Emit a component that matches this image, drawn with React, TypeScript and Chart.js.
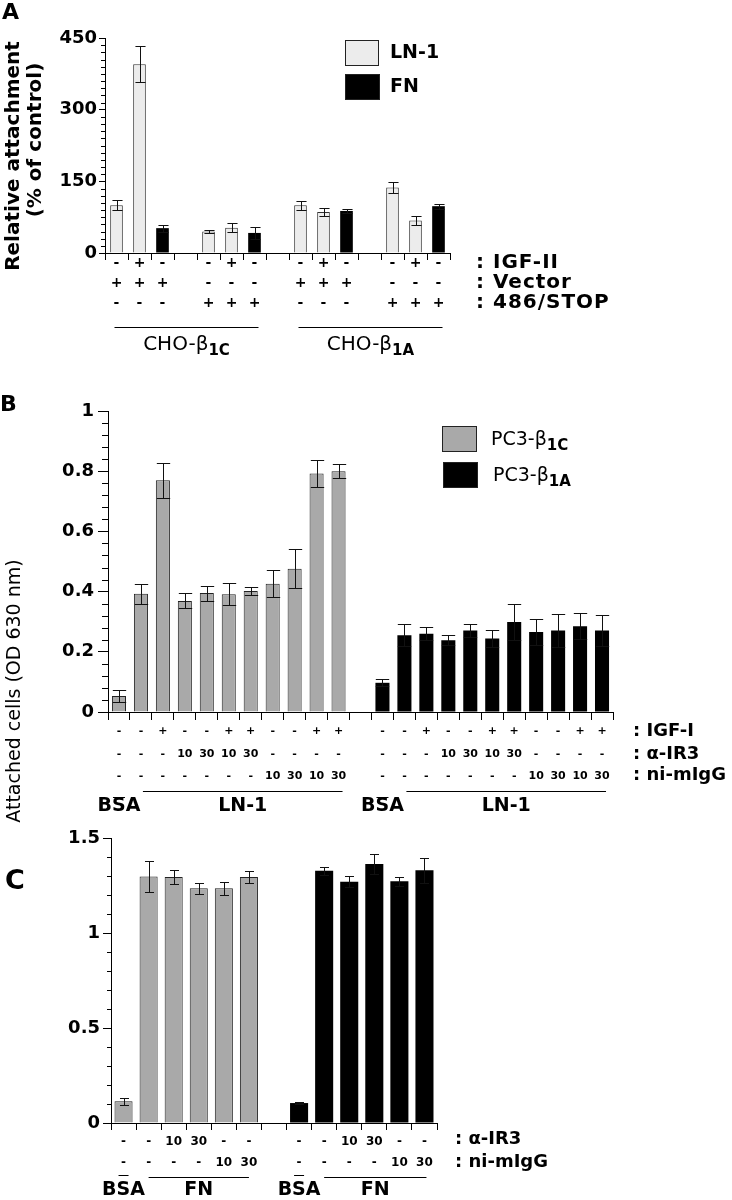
import { useEffect, useRef } from "react";
import { Chart, registerables } from "chart.js";

Chart.register(...registerables);

const W = 732;
const H = 1200;
const FF = '"DejaVu Sans", "Liberation Sans", Arial, sans-serif';

// ---------------- Panel A data (relative attachment, % of control) ----------------
const aCategories = ["C1", "C2", "C3", "gapA1", "C4", "C5", "C6", "gapA2", "A1", "A2", "A3", "gapA3", "A4", "A5", "A6"];
const aLN1 = [100, 395, null, null, 45, 53, null, null, 100, 86, null, null, 137, 68, null];
const aLN1Err = [11, 38, null, null, 4, 9, null, null, 9.5, 9, null, null, 12, 10, null];
const aFN = [null, null, 52, null, null, null, 42, null, null, null, 88, null, null, null, 98];
const aFNErr = [null, null, 7.5, null, null, null, 12, null, null, null, 5, null, null, null, 5];
const aIGF2Row = ["-", "+", "-", "", "-", "+", "-", "", "-", "+", "-", "", "-", "+", "-"];
const aVectorRow = ["+", "+", "+", "", "-", "-", "-", "", "+", "+", "+", "", "-", "-", "-"];
const aStopRow = ["-", "-", "-", "", "+", "+", "+", "", "-", "-", "-", "", "+", "+", "+"];

// ---------------- Panel B data (attached cells OD 630 nm, LN-1) ----------------
const bCategories = ["g1", "g2", "g3", "g4", "g5", "g6", "g7", "g8", "g9", "g10", "g11", "gapB", "k1", "k2", "k3", "k4", "k5", "k6", "k7", "k8", "k9", "k10", "k11"];
const bPC3b1C = [0.053, 0.393, 0.77, 0.369, 0.395, 0.391, 0.402, 0.426, 0.476, 0.792, 0.8, null, null, null, null, null, null, null, null, null, null, null, null];
const bPC3b1CErr = [0.02, 0.033, 0.058, 0.025, 0.025, 0.037, 0.013, 0.045, 0.064, 0.044, 0.023, null, null, null, null, null, null, null, null, null, null, null, null];
const bPC3b1A = [null, null, null, null, null, null, null, null, null, null, null, null, 0.097, 0.255, 0.26, 0.238, 0.271, 0.244, 0.299, 0.266, 0.271, 0.285, 0.271];
const bPC3b1AErr = [null, null, null, null, null, null, null, null, null, null, null, null, 0.012, 0.036, 0.022, 0.017, 0.022, 0.027, 0.061, 0.044, 0.056, 0.044, 0.052];
const bIGF1Row = ["-", "-", "+", "-", "-", "+", "+", "-", "-", "+", "+", "", "-", "-", "+", "-", "-", "+", "+", "-", "-", "+", "+"];
const bIR3Row = ["-", "-", "-", "10", "30", "10", "30", "-", "-", "-", "-", "", "-", "-", "-", "10", "30", "10", "30", "-", "-", "-", "-"];
const bIgGRow = ["-", "-", "-", "-", "-", "-", "-", "10", "30", "10", "30", "", "-", "-", "-", "-", "-", "-", "-", "10", "30", "10", "30"];

// ---------------- Panel C data (attached cells, FN) ----------------
const cCategories = ["g1", "g2", "g3", "g4", "g5", "g6", "gapC", "k1", "k2", "k3", "k4", "k5", "k6"];
const cPC3b1C = [0.114, 1.298, 1.295, 1.235, 1.235, 1.295, null, null, null, null, null, null, null];
const cPC3b1CErr = [0.02, 0.08, 0.037, 0.03, 0.035, 0.033, null, null, null, null, null, null, null];
const cPC3b1A = [null, null, null, null, null, null, null, 0.105, 1.328, 1.27, 1.363, 1.272, 1.33];
const cPC3b1AErr = [null, null, null, null, null, null, null, 0.003, 0.022, 0.03, 0.055, 0.022, 0.065];
const cIR3Row = ["-", "-", "10", "30", "-", "-", "", "-", "-", "10", "30", "-", "-"];
const cIgGRow = ["-", "-", "-", "-", "10", "30", "", "-", "-", "-", "-", "10", "30"];

// ---------------- helpers ----------------
type Val = number | null;
interface Series { data: Val[]; err: Val[]; bg: string; border: string; bw: number }
interface Row { cells: string[]; dy: number; size: number }
interface Group { from: number; to: number; padL: number; padR: number; line: boolean; lineDy: number; textDy: number; text: string; sub?: string; size: number; subSize?: number; weight: string }
interface Overline { at: number; half: number; dy: number }
interface Panel {
  area: { left: number; top: number; right: number; bottom: number };
  labels: string[];
  series: Series[];
  barPct: number;
  capFrac: number;
  yMin: number; yMax: number; yStep: number; yMinor: number; yFont: number; yPad: number;
  majorLen: number; minorLen: number; xTickLen: number;
  rows: Row[];
  groups: Group[];
  overlines: Overline[];
  decorate: (ctx: CanvasRenderingContext2D) => void;
}

const fnt = (size: number, weight = "bold") => `${weight} ${size}px ${FF}`;

function text(ctx: CanvasRenderingContext2D, s: string, x: number, y: number, size: number, weight = "bold", align: CanvasTextAlign = "left", spacing = 0) {
  ctx.save();
  ctx.font = fnt(size, weight);
  (ctx as any).letterSpacing = `${spacing}px`;
  ctx.textAlign = align;
  ctx.textBaseline = "middle";
  ctx.fillStyle = "#000";
  ctx.fillText(s, x, y);
  ctx.restore();
}

function subText(ctx: CanvasRenderingContext2D, main: string, sub: string, x: number, y: number, size: number, subSize: number, weight: string, align: "left" | "center") {
  ctx.save();
  ctx.textBaseline = "middle";
  ctx.fillStyle = "#000";
  ctx.font = fnt(size, weight);
  const wm = ctx.measureText(main).width;
  ctx.font = fnt(subSize, "bold");
  const ws = ctx.measureText(sub).width;
  const start = align === "center" ? x - (wm + ws) / 2 : x;
  ctx.textAlign = "left";
  ctx.font = fnt(size, weight);
  ctx.fillText(main, start, y);
  ctx.font = fnt(subSize, "bold");
  ctx.fillText(sub, start + wm, y + size * 0.32);
  ctx.restore();
}

function rotText(ctx: CanvasRenderingContext2D, s: string, x: number, y: number, size: number, weight: string) {
  ctx.save();
  ctx.translate(x, y);
  ctx.rotate(-Math.PI / 2);
  ctx.font = fnt(size, weight);
  ctx.textAlign = "center";
  ctx.textBaseline = "middle";
  ctx.fillStyle = "#000";
  ctx.fillText(s, 0, 0);
  ctx.restore();
}

function box(ctx: CanvasRenderingContext2D, x: number, y: number, w: number, h: number, fill: string) {
  ctx.save();
  ctx.fillStyle = fill;
  ctx.fillRect(x, y, w, h);
  ctx.strokeStyle = "#222";
  ctx.lineWidth = 1;
  ctx.strokeRect(x + 0.5, y + 0.5, w - 1, h - 1);
  ctx.restore();
}

function decorPlugin(p: Panel) {
  return {
    id: "decor",
    afterDraw(chart: any) {
      const ctx: CanvasRenderingContext2D = chart.ctx;
      const xs = chart.scales.x;
      const ys = chart.scales.y;
      const area = chart.chartArea;
      ctx.save();
      // error bars
      ctx.strokeStyle = "#111";
      ctx.lineWidth = 1;
      p.series.forEach((s, di) => {
        const meta = chart.getDatasetMeta(di);
        s.data.forEach((v, i) => {
          const e = s.err[i];
          if (v == null || e == null) return;
          const el = meta.data[i];
          const x = Math.round(el.x) + 0.5;
          const cap = (el.width * p.capFrac) / 2;
          const yt = Math.round(ys.getPixelForValue(v + e)) + 0.5;
          const yb = Math.round(ys.getPixelForValue(v - e)) + 0.5;
          ctx.beginPath();
          ctx.moveTo(x, yt);
          ctx.lineTo(x, yb);
          ctx.moveTo(x - cap, yt);
          ctx.lineTo(x + cap, yt);
          ctx.moveTo(x - cap, yb);
          ctx.lineTo(x + cap, yb);
          ctx.stroke();
        });
      });
      // minor ticks on y axis
      ctx.strokeStyle = "#000";
      const nMinor = Math.round((p.yMax - p.yMin) / p.yMinor);
      const per = Math.round(p.yStep / p.yMinor);
      for (let k = 0; k <= nMinor; k++) {
        if (k % per === 0) continue;
        const y = Math.round(ys.getPixelForValue(p.yMin + k * p.yMinor)) + 0.5;
        ctx.beginPath();
        ctx.moveTo(area.left - p.minorLen, y);
        ctx.lineTo(area.left, y);
        ctx.stroke();
      }
      // condition rows
      p.rows.forEach((r) => {
        r.cells.forEach((c, i) => {
          if (!c) return;
          text(ctx, c, xs.getPixelForValue(i), area.bottom + r.dy, r.size, "bold", "center");
        });
      });
      // groups
      p.groups.forEach((g) => {
        const x1 = xs.getPixelForValue(g.from) + g.padL;
        const x2 = xs.getPixelForValue(g.to) + g.padR;
        if (g.line) {
          const y = Math.round(area.bottom + g.lineDy) + 0.5;
          ctx.strokeStyle = "#000";
          ctx.lineWidth = 1;
          ctx.beginPath();
          ctx.moveTo(x1, y);
          ctx.lineTo(x2, y);
          ctx.stroke();
        }
        const cx = (x1 + x2) / 2;
        if (g.sub) subText(ctx, g.text, g.sub, cx, area.bottom + g.textDy, g.size, g.subSize || 14, g.weight, "center");
        else text(ctx, g.text, cx, area.bottom + g.textDy, g.size, g.weight, "center");
      });
      p.overlines.forEach((o) => {
        const cx = xs.getPixelForValue(o.at);
        const y = Math.round(area.bottom + o.dy) + 0.5;
        ctx.strokeStyle = "#000";
        ctx.beginPath();
        ctx.moveTo(cx - o.half, y);
        ctx.lineTo(cx + o.half, y);
        ctx.stroke();
      });
      ctx.restore();
      p.decorate(ctx);
    },
  };
}

function buildConfig(p: Panel): any {
  const YW = 90;
  const XH = 20;
  return {
    type: "bar",
    data: {
      labels: p.labels,
      datasets: p.series.map((s) => ({
        data: s.data,
        backgroundColor: s.bg,
        borderColor: s.border,
        borderWidth: s.bw,
        grouped: false,
        barPercentage: p.barPct,
        categoryPercentage: 1,
      })),
    },
    options: {
      responsive: false,
      animation: false,
      devicePixelRatio: 1,
      events: [],
      layout: {
        padding: {
          left: p.area.left - YW,
          right: W - p.area.right,
          top: p.area.top,
          bottom: H - p.area.bottom - XH,
        },
      },
      plugins: { legend: { display: false }, tooltip: { enabled: false }, title: { display: false } },
      scales: {
        x: {
          offset: true,
          grid: { offset: true, drawOnChartArea: false, drawTicks: true, tickLength: p.xTickLen, color: "#000", lineWidth: 1 },
          border: { display: true, color: "#000", width: 1 },
          ticks: { display: false },
          afterFit: (s: any) => {
            s.height = XH;
          },
        },
        y: {
          min: p.yMin,
          max: p.yMax,
          ticks: {
            stepSize: p.yStep,
            color: "#000",
            padding: p.yPad,
            font: { family: FF, size: p.yFont, weight: "bold" },
            callback: (v: number) => String(Math.round(v * 10) / 10),
          },
          grid: { drawOnChartArea: false, drawTicks: true, tickLength: p.majorLen, color: "#000", lineWidth: 1 },
          border: { display: true, color: "#000", width: 1 },
          afterFit: (s: any) => {
            s.width = YW;
          },
        },
      },
    },
    plugins: [decorPlugin(p)],
  };
}

const LIGHT = "#ececec";
const GRAY = "#a9a9a9";
const BLACK = "#000000";

const panelA: Panel = {
  area: { left: 105, top: 38, right: 450, bottom: 253 },
  labels: aCategories,
  series: [
    { data: aLN1, err: aLN1Err, bg: LIGHT, border: "#333", bw: 1 },
    { data: aFN, err: aFNErr, bg: BLACK, border: BLACK, bw: 0 },
  ],
  barPct: 0.55,
  capFrac: 0.8,
  yMin: 0, yMax: 450, yStep: 150, yMinor: 15, yFont: 18, yPad: 2,
  majorLen: 6, minorLen: 4, xTickLen: 7,
  rows: [
    { cells: aIGF2Row, dy: 10, size: 14 },
    { cells: aVectorRow, dy: 30, size: 14 },
    { cells: aStopRow, dy: 50, size: 14 },
  ],
  groups: [
    { from: 0, to: 6, padL: -2, padR: 4, line: true, lineDy: 74, textDy: 92, text: "CHO-β", sub: "1C", size: 20, subSize: 15, weight: "normal" },
    { from: 8, to: 14, padL: -2, padR: 4, line: true, lineDy: 74, textDy: 92, text: "CHO-β", sub: "1A", size: 20, subSize: 15, weight: "normal" },
  ],
  overlines: [],
  decorate: (ctx) => {
    text(ctx, "A", 2, 13, 22, "bold");
    rotText(ctx, "Relative attachment", 14, 156, 20, "bold");
    rotText(ctx, "(% of control)", 36, 140, 20, "bold");
    box(ctx, 345, 40, 34, 26, LIGHT);
    box(ctx, 345, 74, 35, 26, BLACK);
    text(ctx, "LN-1", 390, 53, 19, "bold");
    text(ctx, "FN", 390, 87, 19, "bold");
    text(ctx, ": IGF-II", 476, 263, 20, "bold", "left", 1);
    text(ctx, ": Vector", 476, 283, 20, "bold", "left", 1);
    text(ctx, ": 486/STOP", 476, 303, 20, "bold", "left", 1);
  },
};

const panelB: Panel = {
  area: { left: 108, top: 411, right: 613, bottom: 712 },
  labels: bCategories,
  series: [
    { data: bPC3b1C, err: bPC3b1CErr, bg: GRAY, border: "#222", bw: 1 },
    { data: bPC3b1A, err: bPC3b1AErr, bg: BLACK, border: BLACK, bw: 0 },
  ],
  barPct: 0.64,
  capFrac: 0.95,
  yMin: 0, yMax: 1, yStep: 0.2, yMinor: 0.04, yFont: 18, yPad: 4,
  majorLen: 10, minorLen: 6, xTickLen: 8,
  rows: [
    { cells: bIGF1Row, dy: 19, size: 11 },
    { cells: bIR3Row, dy: 42, size: 11 },
    { cells: bIgGRow, dy: 64, size: 11 },
  ],
  groups: [
    { from: 0, to: 0, padL: 0, padR: 0, line: false, lineDy: 0, textDy: 94, text: "BSA", size: 19, weight: "bold" },
    { from: 1, to: 10, padL: 2, padR: 4, line: true, lineDy: 79, textDy: 94, text: "LN-1", size: 19, weight: "bold" },
    { from: 12, to: 12, padL: 0, padR: 0, line: false, lineDy: 0, textDy: 94, text: "BSA", size: 19, weight: "bold" },
    { from: 13, to: 22, padL: 2, padR: 4, line: true, lineDy: 79, textDy: 94, text: "LN-1", size: 19, weight: "bold" },
  ],
  overlines: [
    { at: 0, half: 6, dy: 85 },
    { at: 12, half: 6, dy: 85 },
  ],
  decorate: (ctx) => {
    text(ctx, "B", 0, 405, 22, "bold");
    rotText(ctx, "Attached cells (OD 630 nm)", 15, 691, 19, "normal");
    box(ctx, 442, 426, 35, 26, GRAY);
    box(ctx, 443, 462, 35, 26, BLACK);
    subText(ctx, "PC3-β", "1C", 491, 440, 19, 15, "normal", "left");
    subText(ctx, "PC3-β", "1A", 493, 476, 19, 15, "normal", "left");
    text(ctx, ": IGF-I", 633, 731, 18, "bold");
    text(ctx, ": α-IR3", 633, 754, 18, "bold");
    text(ctx, ": ni-mIgG", 633, 775, 18, "bold");
  },
};

const panelC: Panel = {
  area: { left: 111, top: 838, right: 437, bottom: 1123 },
  labels: cCategories,
  series: [
    { data: cPC3b1C, err: cPC3b1CErr, bg: GRAY, border: "#222", bw: 1 },
    { data: cPC3b1A, err: cPC3b1AErr, bg: BLACK, border: BLACK, bw: 0 },
  ],
  barPct: 0.72,
  capFrac: 0.5,
  yMin: 0, yMax: 1.5, yStep: 0.5, yMinor: 0.1, yFont: 18, yPad: 3,
  majorLen: 8, minorLen: 4, xTickLen: 7,
  rows: [
    { cells: cIR3Row, dy: 19, size: 12 },
    { cells: cIgGRow, dy: 40, size: 12 },
  ],
  groups: [
    { from: 0, to: 0, padL: 0, padR: 0, line: false, lineDy: 0, textDy: 67, text: "BSA", size: 19, weight: "bold" },
    { from: 1, to: 5, padL: 0, padR: 0, line: true, lineDy: 54, textDy: 67, text: "FN", size: 19, weight: "bold" },
    { from: 7, to: 7, padL: 0, padR: 0, line: false, lineDy: 0, textDy: 67, text: "BSA", size: 19, weight: "bold" },
    { from: 8, to: 12, padL: 0, padR: 2, line: true, lineDy: 54, textDy: 67, text: "FN", size: 19, weight: "bold" },
  ],
  overlines: [
    { at: 0, half: 5, dy: 52 },
    { at: 7, half: 5, dy: 52 },
  ],
  decorate: (ctx) => {
    text(ctx, "C", 5, 882, 27, "bold");
    text(ctx, ": α-IR3", 455, 1139, 18, "bold");
    text(ctx, ": ni-mIgG", 455, 1162, 18, "bold");
  },
};

function PanelChart({ panel }: { panel: Panel }) {
  const ref = useRef<HTMLCanvasElement>(null);
  useEffect(() => {
    if (!ref.current) return;
    const chart = new Chart(ref.current, buildConfig(panel));
    return () => chart.destroy();
  }, [panel]);
  return (
    <canvas
      ref={ref}
      width={W}
      height={H}
      style={{ position: "absolute", left: 0, top: 0, width: W, height: H }}
    />
  );
}

export default function App() {
  useEffect(() => {
    document.body.style.margin = "0";
  }, []);
  return (
    <div style={{ position: "absolute", left: 0, top: 0, width: W, height: H, background: "#fff", overflow: "hidden" }}>
      <PanelChart panel={panelA} />
      <PanelChart panel={panelB} />
      <PanelChart panel={panelC} />
    </div>
  );
}
